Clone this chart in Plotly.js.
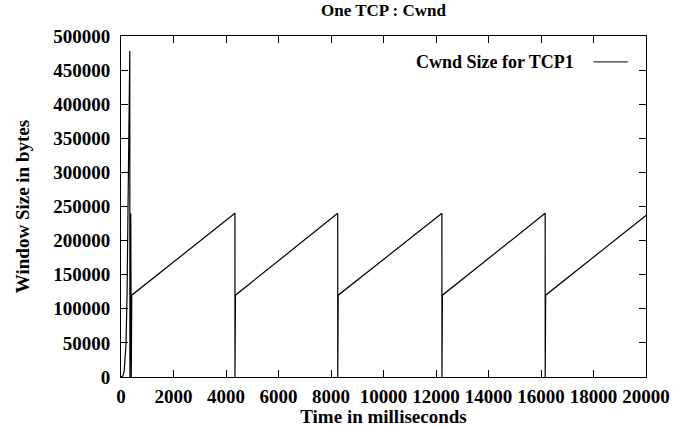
<!DOCTYPE html>
<html>
<head>
<meta charset="utf-8">
<script src="https://cdn.plot.ly/plotly-3.0.1.min.js"></script>
<style>html,body{margin:0;padding:0;background:#fff;}#chart{width:684px;height:427px;}</style>
</head>
<body>
<div id="chart"></div>
<script>
// Time in milliseconds
const timeMs = [0, 60, 120, 160, 190, 230, 260, 290, 335, 340, 362, 372, 392, 410,
  4340, 4342, 4360,
  8255, 8257, 8275,
  12225, 12227, 12245,
  16158, 16160, 16178,
  20000];
// Cwnd size in bytes
const cwndBytes = [0, 1000, 8000, 25000, 48000, 120000, 250000, 393000, 478000, 0, 240000, 240000, 0, 120000,
  240000, 0, 120000,
  240000, 0, 120000,
  240000, 0, 120000,
  240000, 0, 120000,
  237000];

const seriesName = 'Cwnd Size for TCP1';
const chartTitle = 'One TCP : Cwnd';
const xTitle = 'Time in milliseconds';
const yTitle = 'Window Size in bytes';

const font = 'Liberation Serif, Times New Roman, serif';

const trace = {
  x: timeMs, y: cwndBytes, type: 'scatter', mode: 'lines',
  line: {color: '#000', width: 1.2}, name: seriesName, showlegend: false
};

const axisCommon = {
  showline: true, linecolor: '#000', linewidth: 1, mirror: 'ticks',
  ticks: 'inside', ticklen: 7, tickcolor: '#000', tickwidth: 1,
  showgrid: false, zeroline: false,
  tickfont: {family: font, size: 19, color: '#000', weight: 'bold'},
  tickformat: 'd'
};

const layout = {
  width: 684, height: 427,
  margin: {l: 121, r: 38, t: 36, b: 50},
  paper_bgcolor: '#fff', plot_bgcolor: '#fff',
  title: {text: '<b>' + chartTitle + '</b>', font: {family: font, size: 17, color: '#000'},
          x: 0.5607, xanchor: 'center', y: 0.976, yanchor: 'middle'},
  xaxis: Object.assign({}, axisCommon, {
    range: [0, 20000], dtick: 2000, tick0: 0,
    ticklabelstandoff: 2,
    title: {text: '<b>' + xTitle + '</b>', font: {family: font, size: 19, color: '#000'}, standoff: 0}
  }),
  yaxis: Object.assign({}, axisCommon, {
    range: [0, 500000], dtick: 50000, tick0: 0,
    ticklabelstandoff: 6,
    title: {text: '<b>' + yTitle + '</b>', font: {family: font, size: 19, color: '#000'}, standoff: 18}
  }),
  annotations: [{
    xref: 'paper', yref: 'paper', x: 0.864, y: 0.924, xanchor: 'right', yanchor: 'middle',
    text: '<b>' + seriesName + '</b>', showarrow: false, borderpad: 0,
    font: {family: font, size: 18, color: '#000'}
  }],
  shapes: [{
    type: 'line', xref: 'paper', yref: 'paper', x0: 0.9, x1: 0.965, y0: 0.924, y1: 0.924,
    line: {color: '#000', width: 1}
  }]
};

Plotly.newPlot('chart', [trace], layout, {displayModeBar: false, staticPlot: true});
</script>
</body>
</html>
